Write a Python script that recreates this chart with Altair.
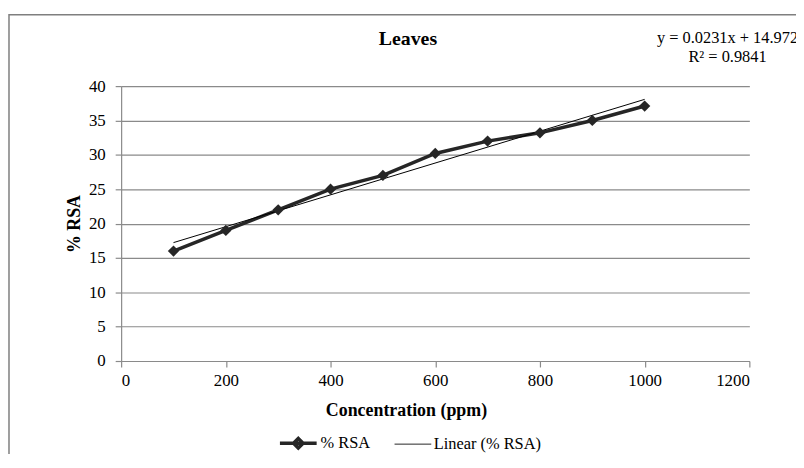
import altair as alt
import pandas as pd

# ---- data ----
conc = [100, 200, 300, 400, 500, 600, 700, 800, 900, 1000]
rsa = [16.0, 19.0, 22.0, 25.0, 27.0, 30.2, 32.0, 33.2, 35.0, 37.1]
x_ticks = [0, 200, 400, 600, 800, 1000, 1200]
y_ticks = [0, 5, 10, 15, 20, 25, 30, 35, 40]
series_names = ["% RSA", "Linear (% RSA)"]
equation_lines = ["y = 0.0231x + 14.972", "R² = 0.9841"]
chart_title = ["Leaves"]
x_title = "Concentration (ppm)"
y_title = "% RSA"

FONT = "Liberation Serif"
INK = "#262626"
GRID = "#8a8a8a"

df = pd.DataFrame({"conc": conc, "rsa": rsa})

x_enc = alt.X(
    "conc:Q",
    scale=alt.Scale(domain=[0, 1200], nice=False),
    axis=alt.Axis(values=x_ticks, format="d", title=x_title, grid=False, labelPadding=6,
                  labelOverlap=False,
                  titleX=287, titleY=50, titleBaseline="middle", titleAlign="center",
                  titleFontWeight="bold"),
)
y_enc = alt.Y(
    "rsa:Q",
    scale=alt.Scale(domain=[0, 40], nice=False),
    axis=alt.Axis(values=y_ticks, format="d", title=y_title, grid=True, labelPadding=10,
                  labelOverlap=False,
                  titleX=-47, titleY=138.5, titleBaseline="middle", titleAlign="center",
                  titleFontWeight="bold"),
)

base = alt.Chart(df)
line = base.mark_line(color=INK, strokeWidth=3.5).encode(x=x_enc, y=y_enc)
pts = base.mark_point(shape="diamond", filled=True, size=130, color=INK, opacity=1).encode(
    x=x_enc, y=y_enc
)
trend = base.transform_regression("conc", "rsa").mark_line(
    color="black", strokeWidth=1
).encode(x=x_enc, y=y_enc)

# legend (symbols only, mark itself invisible)
PATH_A = "M-1,0L1,0M0,-0.26L0.26,0L0,0.26L-0.26,0Z"
PATH_B = "M-1,0L1,0"
leg_df = pd.DataFrame({"series": series_names})
legend_layer = alt.Chart(leg_df).mark_point(opacity=0).encode(
    shape=alt.Shape("series:N", scale=alt.Scale(domain=series_names, range=[PATH_A, PATH_B]),
                    legend=alt.Legend(title=None)),
    strokeWidth=alt.StrokeWidth("series:N", scale=alt.Scale(domain=series_names, range=[3.5, 1]),
                                legend=alt.Legend(title=None)),
)

# outer chart-area frame
frame = alt.Chart(pd.DataFrame({"a": [0]})).mark_rect(
    fillOpacity=0, stroke="#7f7f7f", strokeWidth=1.5
).encode(x=alt.value(-113), x2=alt.value(720), y=alt.value(-72), y2=alt.value(420))

title_text = alt.Chart(pd.DataFrame({"t": chart_title})).mark_text(
    font=FONT, fontSize=20, fontWeight="bold", color="black", baseline="middle", align="center"
).encode(text="t:N", x=alt.value(289), y=alt.value(-47))

eq1 = alt.Chart(pd.DataFrame({"t": equation_lines[:1]})).mark_text(
    font=FONT, fontSize=16.5, color="black", baseline="middle", align="center"
).encode(text="t:N", x=alt.value(611), y=alt.value(-48))
eq2 = alt.Chart(pd.DataFrame({"t": equation_lines[1:]})).mark_text(
    font=FONT, fontSize=16.5, color="black", baseline="middle", align="center"
).encode(text="t:N", x=alt.value(611), y=alt.value(-29))

chart = (
    alt.layer(frame, line, trend, pts, legend_layer, title_text, eq1, eq2)
    .properties(
        width=633,
        height=277,
        autosize=alt.AutoSizeParams(type="none"),
        padding={"left": 114, "top": 77, "right": 47, "bottom": 92},
    )
    .configure_view(stroke=None)
    .configure_axis(
        labelFont=FONT, titleFont=FONT, labelFontSize=17, titleFontSize=18,
        labelColor="black", titleColor="black",
        domainColor=GRID, tickColor=GRID, gridColor=GRID, tickSize=6,
        domainWidth=1.2, gridWidth=1.2, tickWidth=1.2,
    )
    .configure_legend(
        orient="none", legendX=158, legendY=339, direction="horizontal",
        labelFont=FONT, labelFontSize=16.5, labelColor="black",
        symbolSize=1369, symbolOpacity=1, symbolFillColor=INK, symbolStrokeColor=INK,
        labelOffset=2, columnPadding=22, padding=0,
    )
)

chart.save("out.html", embed_options={"renderer": "svg", "actions": False})
